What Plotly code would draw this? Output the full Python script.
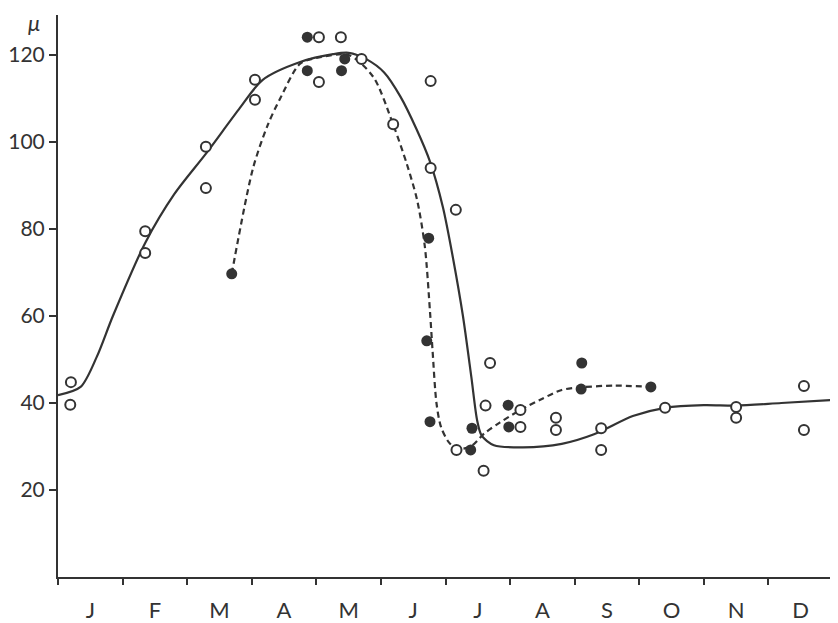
import plotly.graph_objects as go

# Month positions: 0 = start of January, 12 = end of December
month_labels = ["J", "F", "M", "A", "M", "J", "J", "A", "S", "O", "N", "D"]
month_centers = [i + 0.5 for i in range(12)]
y_ticks = [20, 40, 60, 80, 100, 120]

# Open-circle observations
open_x = [0.2, 0.19, 1.35, 1.35, 2.29, 2.29, 3.05, 3.05, 4.04, 4.04, 4.38, 4.7,
          5.19, 5.77, 5.77, 6.16, 6.69, 6.62, 6.17, 6.59, 7.16, 7.16, 7.71, 7.71,
          8.41, 8.41, 9.4, 10.5, 10.5, 11.55, 11.55]
open_y = [44.8, 39.6, 79.5, 74.5, 98.9, 89.4, 114.3, 109.7, 124.1, 113.8, 124.1, 119.1,
          104.1, 114.0, 94.0, 84.4, 49.2, 39.4, 29.2, 24.4, 38.4, 34.5, 36.6, 33.8,
          34.2, 29.2, 38.9, 39.1, 36.6, 43.9, 33.8]

# Filled-circle observations
filled_x = [2.69, 3.86, 3.86, 4.44, 4.39, 5.74, 5.71, 5.76, 6.41, 6.39, 6.97, 6.98,
            8.11, 8.1, 9.18]
filled_y = [69.7, 124.1, 116.4, 119.1, 116.4, 77.9, 54.3, 35.7, 34.2, 29.2, 39.5, 34.5,
            49.2, 43.2, 43.7]

# Hand-drawn solid curve (control points)
solid_x = [0.0, 0.35, 0.6, 0.85, 1.35, 1.8, 2.3, 2.8, 3.17, 3.75, 4.26, 4.5, 4.78,
           5.05, 5.3, 5.55, 5.76, 5.96, 6.12, 6.27, 6.4, 6.49, 6.56, 6.75, 7.2, 7.8, 8.3,
           8.9, 9.4, 10.0, 10.5, 11.2, 12.0]
solid_y = [41.8, 43.7, 50.6, 60.0, 76.8, 88.0, 97.5, 107.5, 114.3, 118.4, 120.2, 120.5, 119.0,
           116.0, 110.5, 103.0, 95.5, 85.0, 73.0, 60.0, 46.0, 36.0, 32.5, 30.3, 29.8, 30.6, 32.8,
           37.0, 38.9, 39.5, 39.4, 40.0, 40.7]

# Hand-drawn dashed curve (control points)
dash_x = [2.69, 3.02, 3.25, 3.44, 3.75, 4.06, 4.5, 4.88, 5.19, 5.4, 5.56, 5.68, 5.76,
          5.8, 5.86, 5.93, 6.05, 6.17, 6.39, 6.6, 6.84, 7.16, 7.5, 7.8, 8.1, 8.6, 9.18]
dash_y = [69.7, 94.0, 104.0, 110.0, 118.0, 119.5, 120.0, 115.0, 104.0, 95.0, 86.7, 76.0, 61.0,
          52.0, 40.0, 34.5, 31.0, 29.5, 30.0, 33.0, 35.5, 38.4, 41.0, 43.0, 43.6, 44.0, 43.7]

INK = "#333333"

fig = go.Figure()
fig.add_trace(go.Scatter(x=solid_x, y=solid_y, mode="lines",
                         line=dict(color=INK, width=2.2, shape="spline", smoothing=0.8),
                         hoverinfo="skip", showlegend=False))
fig.add_trace(go.Scatter(x=dash_x, y=dash_y, mode="lines",
                         line=dict(color=INK, width=2.2, dash="6px,4px", shape="spline", smoothing=0.8),
                         hoverinfo="skip", showlegend=False))
fig.add_trace(go.Scatter(x=open_x, y=open_y, mode="markers",
                         marker=dict(symbol="circle", size=10, color="white",
                                     line=dict(color=INK, width=2)),
                         showlegend=False))
fig.add_trace(go.Scatter(x=filled_x, y=filled_y, mode="markers",
                         marker=dict(symbol="circle", size=11, color=INK,
                                     line=dict(color=INK, width=0)),
                         showlegend=False))

# The page body has an 8px default margin, so the figure is 8px smaller and margins shifted
fig.update_layout(
    width=830, height=615,
    margin=dict(l=50, r=5, t=7, b=46),
    plot_bgcolor="white", paper_bgcolor="white",
    font=dict(family="Lato, DejaVu Sans, sans-serif", color=INK, size=22),
    xaxis=dict(range=[0, 12], showgrid=False, zeroline=False, showline=True,
               linecolor=INK, linewidth=2, tickvals=month_centers, ticktext=month_labels,
               ticks="outside", ticklen=0, ticklabelstandoff=13,
               minor=dict(tick0=0, dtick=1, ticks="outside", ticklen=6, tickwidth=2,
                          tickcolor=INK, showgrid=False),
               automargin=False, fixedrange=True),
    yaxis=dict(range=[0, 129.2], showgrid=False, zeroline=False, showline=True,
               linecolor=INK, linewidth=2, tickvals=y_ticks, tickfont=dict(size=21),
               ticks="outside", ticklen=7, tickwidth=1.5, tickcolor=INK,
               automargin=False, fixedrange=True),
    annotations=[dict(text="<i>μ</i>", xref="paper", yref="paper", x=-0.031, y=0.9875,
                      showarrow=False, font=dict(size=22, color=INK),
                      xanchor="center", yanchor="middle")],
)

fig.write_html("out.html")
